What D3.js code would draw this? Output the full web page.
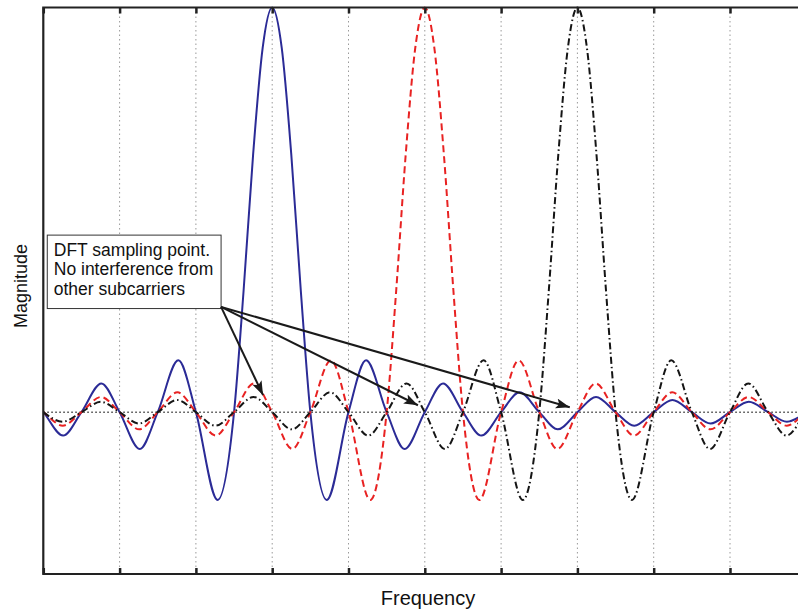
<!DOCTYPE html>
<html lang="en">
<head>
<meta charset="UTF-8">
<title>OFDM subcarriers</title>
<script src="https://d3js.org/d3.v7.min.js"></script>
<style>
  body { margin: 0; background: #fff; }
  svg { display: block; font-family: "Liberation Sans", Arial, sans-serif; }
</style>
</head>
<body>
<svg id="chart" width="798" height="615"></svg>
<script>
// subcarrier centre frequencies (grid units)
const centers = [3, 5, 7];
const seriesColor = ["#2b2b96", "#e82222", "#151515"];
const seriesDash = [null, "7,4", "7,3,1.5,3"];

// one-sided lobe shape: offset from centre (grid units) -> magnitude
const lobeOffset = [0, 0.125, 0.25, 0.375, 0.5, 0.715, 1.0, 1.23, 1.5, 1.736, 2.0, 2.239, 2.5,
  2.741, 3.0, 3.242, 3.5, 3.743, 4.0, 4.244, 4.5, 4.745, 5.0, 5.245, 5.5, 5.746, 6.0, 6.246, 6.5, 6.746, 7.0];
const lobeMag = [1.0, 0.90, 0.637, 0.30, 0, -0.217, 0, 0.128, 0, -0.091, 0, 0.071, 0,
  -0.058, 0, 0.049, 0, -0.0425, 0, 0.0375, 0, -0.0335, 0, 0.030, 0, -0.028, 0, 0.0255, 0, -0.0236, 0];

const gridTicks = [0, 1, 2, 3, 4, 5, 6, 7, 8, 9, 10];

// annotation
const noteLines = ["DFT sampling point.", "No interference from", "other subcarriers"];
const noteBox = { x0: 0.052, x1: 2.33, y0: 0.4375, y1: 0.256 };
const arrowFrom = [2.33, 0.26];
const arrowTo = [[2.88, 0.042], [4.91, 0.017], [6.90, 0.012]];

const svg = d3.select("#chart");
const margin = { left: 43.3, top: 7.5 };
const width = 763, height = 566.5;

const x = d3.scaleLinear().domain([0, 10]).range([margin.left, margin.left + width]);
const y = d3.scaleLinear().domain([-0.4, 1]).range([margin.top + height, margin.top]);

svg.append("defs").append("clipPath").attr("id", "plot")
  .append("rect").attr("x", x(0)).attr("y", y(1) - 3).attr("width", width).attr("height", height + 3);

svg.append("defs").append("marker")
  .attr("id", "head").attr("markerUnits", "userSpaceOnUse")
  .attr("markerWidth", 16).attr("markerHeight", 12)
  .attr("refX", 14).attr("refY", 5).attr("orient", "auto")
  .append("path").attr("d", "M0,0 L14,5 L0,10 L3,5 Z").attr("fill", "#1a1a1a");

// vertical dotted grid
svg.append("g").selectAll("line")
  .data(gridTicks.slice(1, -1))
  .enter().append("line")
  .attr("x1", d => x(d)).attr("x2", d => x(d))
  .attr("y1", y(1)).attr("y2", y(-0.4))
  .attr("stroke", "#9a9a9a").attr("stroke-width", 1)
  .attr("stroke-dasharray", "1.5,3");

// zero line
svg.append("line")
  .attr("x1", x(0)).attr("x2", x(10)).attr("y1", y(0)).attr("y2", y(0))
  .attr("stroke", "#444").attr("stroke-width", 1.5).attr("stroke-dasharray", "1.5,2.5");

// build each subcarrier from the mirrored lobe shape
const lobe = lobeOffset.map((o, i) => ({ o: o, m: lobeMag[i] }));
const fullLobe = lobe.slice(1).reverse().map(d => ({ o: -d.o, m: d.m })).concat(lobe);

const line = d3.line()
  .x(d => x(d.f)).y(d => y(d.m))
  .curve(d3.curveMonotoneX);

const plot = svg.append("g").attr("clip-path", "url(#plot)");
centers.forEach((c, i) => {
  const pts = fullLobe.map(d => ({ f: c + d.o, m: d.m }));
  plot.append("path")
    .datum(pts)
    .attr("d", line)
    .attr("fill", "none")
    .attr("stroke", seriesColor[i])
    .attr("stroke-width", 2)
    .attr("stroke-dasharray", seriesDash[i]);
});

// frame + ticks
const axisColor = "#222";
svg.append("g")
  .attr("transform", `translate(0,${y(-0.4)})`)
  .call(d3.axisBottom(x).tickValues(gridTicks).tickSize(-6).tickFormat(""))
  .call(g => g.select(".domain").remove())
  .call(g => g.selectAll("line").attr("stroke", axisColor).attr("stroke-width", 2.5));
svg.append("g")
  .attr("transform", `translate(0,${y(1)})`)
  .call(d3.axisTop(x).tickValues(gridTicks).tickSize(-6).tickFormat(""))
  .call(g => g.select(".domain").remove())
  .call(g => g.selectAll("line").attr("stroke", axisColor).attr("stroke-width", 2.5));

svg.append("path")
  .attr("d", `M${x(10)},${y(1)} H${x(0)} V${y(-0.4)} H${x(10)}`)
  .attr("fill", "none").attr("stroke", axisColor).attr("stroke-width", 2.2);

// axis titles
svg.append("text")
  .attr("x", 428).attr("y", 605)
  .attr("text-anchor", "middle").attr("font-size", 20).attr("fill", "#111")
  .text("Frequency");
svg.append("text")
  .attr("transform", "translate(27,286) rotate(-90)")
  .attr("text-anchor", "middle").attr("font-size", 18).attr("fill", "#111")
  .text("Magnitude");

// annotation box
svg.append("rect")
  .attr("x", x(noteBox.x0)).attr("y", y(noteBox.y0))
  .attr("width", x(noteBox.x1) - x(noteBox.x0))
  .attr("height", y(noteBox.y1) - y(noteBox.y0))
  .attr("fill", "#fff").attr("stroke", "#333").attr("stroke-width", 1);

svg.append("g").selectAll("text")
  .data(noteLines)
  .enter().append("text")
  .attr("x", x(noteBox.x0) + 6.5)
  .attr("y", (d, i) => 255.5 + i * 19.5)
  .attr("font-size", 17.5).attr("fill", "#111")
  .text(d => d);

// arrows
svg.append("g").selectAll("line")
  .data(arrowTo)
  .enter().append("line")
  .attr("x1", x(arrowFrom[0])).attr("y1", y(arrowFrom[1]))
  .attr("x2", d => x(d[0])).attr("y2", d => y(d[1]))
  .attr("stroke", "#1a1a1a").attr("stroke-width", 2)
  .attr("marker-end", "url(#head)");
</script>
</body>
</html>
